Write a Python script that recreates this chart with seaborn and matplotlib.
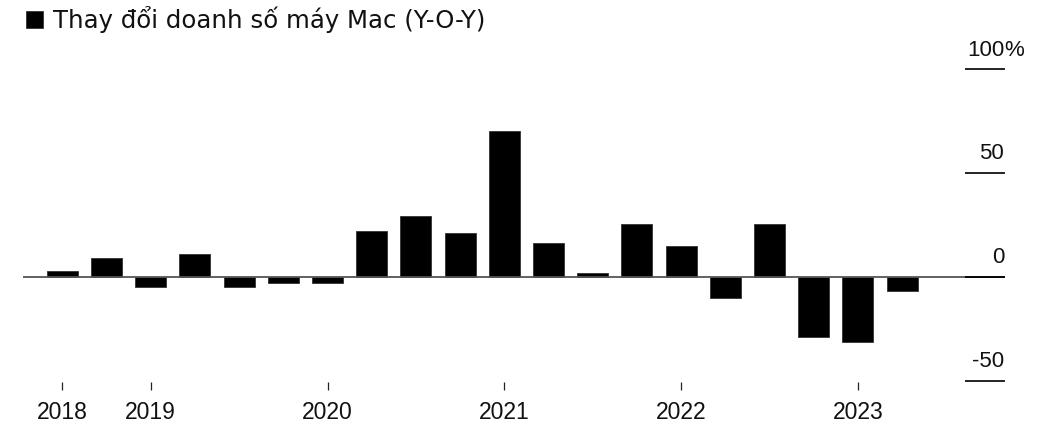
import numpy as np
import pandas as pd
import seaborn as sns
import matplotlib.pyplot as plt
from matplotlib.transforms import offset_copy

# Quý (từ Q3 2018 đến Q2 2023) và mức thay đổi doanh số Mac so với cùng kỳ (%)
quarters = ["2018Q3", "2018Q4",
            "2019Q1", "2019Q2", "2019Q3", "2019Q4",
            "2020Q1", "2020Q2", "2020Q3", "2020Q4",
            "2021Q1", "2021Q2", "2021Q3", "2021Q4",
            "2022Q1", "2022Q2", "2022Q3", "2022Q4",
            "2023Q1", "2023Q2"]
yoy_change = [2.9, 9.2, -4.8, 11.0, -4.8, -2.9, -2.9, 22.1, 29.2, 21.0,
              70.4, 16.4, 2.0, 25.4, 15.0, -10.3, 25.7, -28.7, -31.2, -6.7]
year_ticks = ["2018Q3", "2019Q1", "2020Q1", "2021Q1", "2022Q1", "2023Q1"]
year_labels = ["2018", "2019", "2020", "2021", "2022", "2023"]
y_ticks = [-50, 0, 50, 100]
y_labels = ["-50", "0", "50", "100"]
legend_label = "Thay đổi doanh số máy Mac (Y-O-Y)"

df = pd.DataFrame({"quarter": quarters, "change": yoy_change})

sns.set_theme(style="white")
plt.rcParams["font.family"] = ["DejaVu Sans"]

W, H = 1049, 428
fig = plt.figure(figsize=(W / 100, H / 100), dpi=100)
# vị trí trục theo pixel
left_px, right_px, top_px, bottom_px = 23, 1005, 40, 382
ax = fig.add_axes([left_px / W, 1 - bottom_px / H,
                   (right_px - left_px) / W, (bottom_px - top_px) / H])

sns.barplot(data=df, x="quarter", y="change", color="black", width=0.7,
            edgecolor="#333333", linewidth=0.6, saturation=1,
            label=legend_label, ax=ax)

# khoảng cách 44.2 px giữa các cột, cột đầu tiên ở x=62
step = 44.2
ax.set_xlim((left_px - 62.3) / step, (right_px - 62.3) / step)
scale = 2.075
ax.set_ylim((277 - bottom_px) / scale, (277 - top_px) / scale)

for s in ax.spines.values():
    s.set_visible(False)

ax.axhline(0, color="#555555", lw=1.3, zorder=3)
ax.hlines([v for v in y_ticks if v != 0], 0.959, 1.0,
          transform=ax.get_yaxis_transform(), color="black", lw=1.2,
          clip_on=False)
ax.hlines([0], 0.959, 1.0, transform=ax.get_yaxis_transform(),
          color="black", lw=1.3, clip_on=False, zorder=4)

ax.set_yticks([])
ax.set_ylabel("")
ax.set_xlabel("")

trans = offset_copy(ax.get_yaxis_transform(), fig=fig, x=0, y=10, units="points")
for v, lab in zip(y_ticks, y_labels):
    ax.text(0.999, v, lab, transform=trans, ha="right", va="baseline",
            fontsize=16, family="Liberation Sans", color="#111111",
            clip_on=False)
ax.text(0.999, 100, "%", transform=trans, ha="left", va="baseline",
        fontsize=16, family="Liberation Sans", color="#111111",
        clip_on=False)

ax.set_xticks([quarters.index(q) for q in year_ticks])
ax.set_xticklabels(year_labels, family="Liberation Sans", fontsize=16.5,
                   color="#111111")
ax.tick_params(axis="x", bottom=True, length=5.5, width=0.9, color="#222222",
               direction="out", pad=8)

leg = ax.legend(loc="upper left", bbox_to_anchor=(26 / W, 1 - 6 / H),
                bbox_transform=fig.transFigure, frameon=False,
                borderpad=0, borderaxespad=0, handlelength=0.7,
                handleheight=0.7, handletextpad=0.4,
                prop={"family": "DejaVu Sans", "size": 17.6})
for t in leg.get_texts():
    t.set_color("#111111")

fig.savefig("out.png", dpi=100, facecolor="white")
